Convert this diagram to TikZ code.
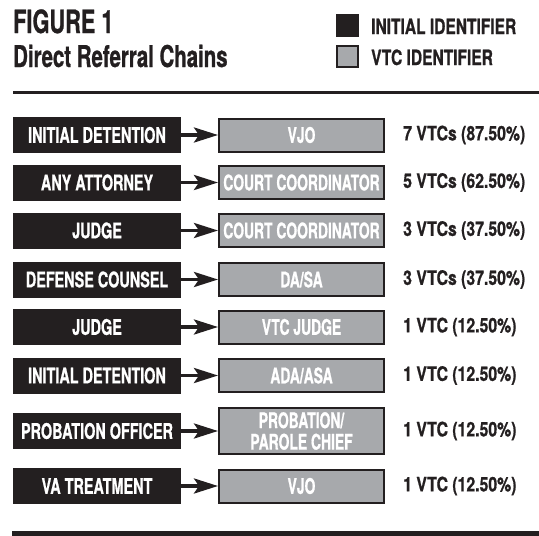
\documentclass[tikz,border=0pt]{standalone}
\usepackage{fontspec}
\usetikzlibrary{arrows.meta}
\newfontfamily\condsrc[FakeStretch=0.67,FakeBold=0.8]{TeX Gyre Heros}
\newfontfamily\condvtc[FakeStretch=0.645,FakeBold=0.8]{TeX Gyre Heros}
\newfontfamily\condcnt[FakeStretch=0.79,FakeBold=0.8]{TeX Gyre Heros}
\newfontfamily\condleg[FakeStretch=0.74,FakeBold=0.8]{TeX Gyre Heros}
\newfontfamily\condttl[FakeStretch=0.68,FakeBold=0.8]{TeX Gyre Heros}
\definecolor{ink}{HTML}{231F20}
\definecolor{midgray}{HTML}{A7A9AC}
\tikzset{
  srcbox/.style={fill=ink, text=white, minimum width=168pt, minimum height=36pt, inner sep=0pt,
     font=\condsrc\bfseries\fontsize{21.5}{22}\selectfont},
  vtcbox/.style={fill=midgray, draw=ink, line width=2pt, text=white, minimum width=165pt, minimum height=33pt,
     inner sep=0pt, align=center, font=\condvtc\bfseries\fontsize{21.5}{21.5}\selectfont},
  countlbl/.style={anchor=west, inner sep=0pt, text=ink, font=\condcnt\bfseries\fontsize{20}{21}\selectfont},
  legtext/.style={anchor=base west, inner sep=0pt, text=ink, font=\condleg\bfseries\fontsize{21}{22}\selectfont},
  flow/.style={ink, line width=3.5pt, -{Stealth[length=24pt, width=15pt, inset=5pt]}},
}
\begin{document}
\begin{tikzpicture}[x=1pt,y=-1pt]
\useasboundingbox (0,0) rectangle (539,536);
% title
\node[anchor=base west, inner sep=0pt, text=ink, font=\condttl\bfseries\fontsize{32}{33}\selectfont] (fig) at (13,33) {FIGURE 1};
\node[anchor=base west, inner sep=0pt, text=ink, font=\condttl\bfseries\fontsize{30}{32}\selectfont] (sub) at (13,67) {Direct Referral Chains};
% legend
\node[fill=ink, minimum size=23pt, inner sep=0pt] (lk1) at (347.5,25) {};
\node[fill=midgray, draw=ink, line width=2pt, minimum size=21pt, inner sep=0pt] (lk2) at (347.5,56.5) {};
\node[legtext] (lt1) at (371,34) {INITIAL IDENTIFIER};
\node[legtext] (lt2) at (371,65) {VTC IDENTIFIER};
% rules
\coordinate (rl) at (13,92.5);
\coordinate (rr) at (539,92.5);
\draw[ink, line width=3pt] (rl) -- (rr);
\fill[ink] (12,531) rectangle (539,536);
% rows
\foreach \i/\y/\s/\v/\c in {
  1/135/INITIAL DETENTION/VJO/7 VTCs (87.50\%),
  2/182.5/ANY ATTORNEY/COURT COORDINATOR/5 VTCs (62.50\%),
  3/230.5/JUDGE/COURT COORDINATOR/3 VTCs (37.50\%),
  4/279.5/DEFENSE COUNSEL/DA\slash SA/3 VTCs (37.50\%),
  5/327/JUDGE/VTC JUDGE/1 VTC (12.50\%),
  6/375.5/INITIAL DETENTION/ADA\slash ASA/1 VTC (12.50\%),
  8/486/VA TREATMENT/VJO/1 VTC (12.50\%)} {
  \node[srcbox] (s\i) at (97,\y) {\s};
  \node[vtcbox] (v\i) at (301.5,\y) {\v};
  \node[countlbl] (c\i) at (403,\y) {\c};
  \draw[flow] (s\i) -- (v\i);
}
\node[srcbox] (s7) at (97,431) {PROBATION OFFICER};
\node[vtcbox, minimum height=46pt] (v7) at (301.5,431) {PROBATION/\\PAROLE CHIEF};
\node[countlbl] (c7) at (403,431) {1 VTC (12.50\%)};
\draw[flow] (s7) -- (v7);
\end{tikzpicture}
\end{document}
